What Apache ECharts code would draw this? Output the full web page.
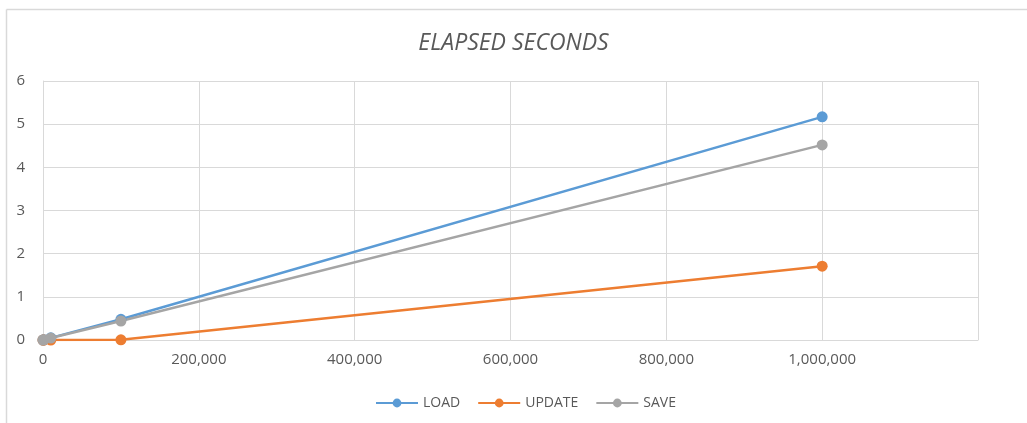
<!DOCTYPE html>
<html>
<head>
<meta charset="utf-8">
<style>html,body{margin:0;padding:0;background:#fff;}#c{width:1027px;height:423px;}</style>
<script src="https://cdn.jsdelivr.net/npm/echarts@6/dist/echarts.min.js"></script>
</head>
<body>
<div id="c"></div>
<script>
var rows = [0, 1000, 10000, 100000, 1000000];
var loadVals = [0, 0.005, 0.05, 0.48, 5.17];
var updateVals = [0, 0, 0, 0.005, 1.71];
var saveVals = [0, 0.005, 0.045, 0.44, 4.52];
var seriesNames = ['LOAD', 'UPDATE', 'SAVE'];
var colors = ['#5b9bd5', '#ed7d31', '#a5a5a5'];

function pairs(vals){ return rows.map(function(x,i){ return [x, vals[i]]; }); }
var font = '"Open Sans", "Liberation Sans", sans-serif';
var chart = echarts.init(document.getElementById('c'));
var allVals = [loadVals, updateVals, saveVals];
chart.setOption({
  animation: false,
  color: colors,
  title: {
    text: 'ELAPSED SECONDS', left: 'center', top: 27,
    textStyle: { fontFamily: font, fontStyle: 'italic', fontWeight: 'normal', fontSize: 23, color: '#595959' }
  },
  legend: {
    bottom: 8, left: 370, itemWidth: 42, itemHeight: 11, itemGap: 17,
    textStyle: { fontFamily: font, fontSize: 14, color: '#595959' },
    data: seriesNames
  },
  grid: { left: 43, right: 49, top: 81, bottom: 83 },
  xAxis: {
    type: 'value', min: 0, max: 1200000, interval: 200000,
    axisLine: { show: true, lineStyle: { color: '#d9d9d9', width: 1 } },
    axisTick: { show: false },
    splitLine: { show: true, lineStyle: { color: '#d9d9d9', width: 1 } },
    axisLabel: {
      fontFamily: font, fontSize: 15, color: '#595959', margin: 12,
      formatter: function(v){ return v >= 1200000 ? '' : v.toLocaleString('en-US'); }
    }
  },
  yAxis: {
    type: 'value', min: 0, max: 6, interval: 1,
    axisLine: { show: true, lineStyle: { color: '#d9d9d9', width: 1 } },
    axisTick: { show: false },
    splitLine: { show: true, lineStyle: { color: '#d9d9d9', width: 1 } },
    axisLabel: { fontFamily: font, fontSize: 15, color: '#595959', margin: 18 }
  },
  graphic: [
    { type: 'line', shape: { x1: 6.5, y1: 9.5, x2: 1027, y2: 9.5 }, style: { stroke: '#d9d9d9', lineWidth: 1.5 } },
    { type: 'line', shape: { x1: 6.5, y1: 9.5, x2: 6.5, y2: 423 }, style: { stroke: '#d9d9d9', lineWidth: 1.5 } }
  ],
  series: seriesNames.map(function(n, i){
    return {
      name: n, type: 'line', data: pairs(allVals[i]),
      symbol: 'circle', symbolSize: 11,
      lineStyle: { width: 2.5, color: colors[i] },
      itemStyle: { color: colors[i] }
    };
  })
});
</script>
</body>
</html>
